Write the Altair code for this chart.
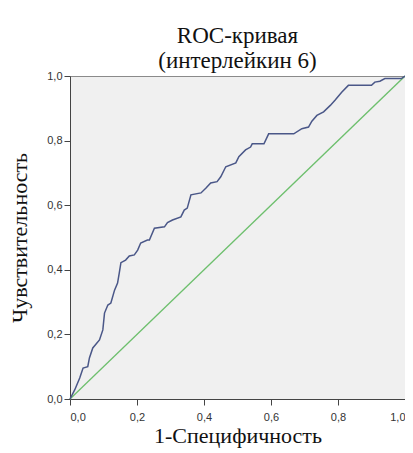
import altair as alt
import pandas as pd

fpr = [0.0, 0.014, 0.029, 0.039, 0.053, 0.058, 0.068, 0.088, 0.098, 0.103, 0.113, 0.122,
       0.133, 0.142, 0.147, 0.152, 0.166, 0.177, 0.192, 0.202, 0.211, 0.231, 0.237, 0.252,
       0.282, 0.291, 0.306, 0.331, 0.341, 0.350, 0.361, 0.391, 0.406, 0.420, 0.439, 0.450,
       0.465, 0.495, 0.504, 0.524, 0.539, 0.544, 0.579, 0.593, 0.668, 0.692, 0.712, 0.722,
       0.737, 0.757, 0.777, 0.791, 0.811, 0.831, 0.900, 0.910, 0.925, 0.940, 0.989, 1.0]
tpr = [0.0, 0.028, 0.065, 0.096, 0.100, 0.127, 0.158, 0.183, 0.214, 0.266, 0.291, 0.297,
       0.337, 0.359, 0.390, 0.422, 0.430, 0.443, 0.446, 0.461, 0.483, 0.492, 0.492, 0.529,
       0.533, 0.546, 0.554, 0.564, 0.585, 0.591, 0.632, 0.638, 0.653, 0.669, 0.673, 0.688,
       0.719, 0.731, 0.750, 0.771, 0.780, 0.790, 0.790, 0.821, 0.821, 0.837, 0.842, 0.860,
       0.878, 0.889, 0.909, 0.925, 0.950, 0.971, 0.971, 0.981, 0.984, 0.992, 0.992, 1.0]
diag_x = [0.0, 1.0]
diag_y = [0.0, 1.0]
ticks = [0.0, 0.2, 0.4, 0.6, 0.8, 1.0]

roc = pd.DataFrame({"x": fpr, "y": tpr, "o": list(range(len(fpr)))})
diag = pd.DataFrame({"x": diag_x, "y": diag_y, "o": [0, 1]})

label_expr = "replace(format(datum.value, '.1f'), '.', ',')"
SERIF = "Liberation Serif"

xscale = alt.Scale(domain=[0, 1], nice=False, zero=False)
yscale = alt.Scale(domain=[0, 1], nice=False, zero=False)

xaxis = alt.Axis(values=ticks, labelExpr=label_expr, title="1-Специфичность", grid=False,
                 tickSize=6, labelPadding=6, titlePadding=3)
yaxis = alt.Axis(values=ticks, labelExpr=label_expr, title="Чувствительность", grid=False,
                 tickSize=6, labelPadding=2, titlePadding=15)

diag_line = alt.Chart(diag).mark_line(color="#6dbf6d", strokeWidth=1.3).encode(
    x=alt.X("x:Q", scale=xscale, axis=xaxis),
    y=alt.Y("y:Q", scale=yscale, axis=yaxis),
    order="o:Q",
)
roc_line = alt.Chart(roc).mark_line(color="#4a5788", strokeWidth=1.5).encode(
    x=alt.X("x:Q", scale=xscale, axis=xaxis),
    y=alt.Y("y:Q", scale=yscale, axis=yaxis),
    order="o:Q",
)

chart = (
    alt.layer(diag_line, roc_line)
    .properties(
        width=335,
        height=323,
        autosize=alt.AutoSizeParams(type="none"),
        padding={"left": 62, "top": 68, "right": 0, "bottom": 52},
        title=alt.TitleParams(
            text=["ROC-кривая", "(интерлейкин 6)"],
            font=SERIF,
            fontSize=23,
            fontWeight="normal",
            color="#111",
            anchor="middle",
            lineHeight=25,
            offset=-3,
        ),
        background="white",
    )
    .configure_view(fill="#f0f0f0", stroke="#8a8a8a", strokeWidth=1)
    .configure_axis(
        domainColor="#444",
        tickColor="#444",
        labelFont="Liberation Sans",
        labelFontSize=11,
        labelColor="#333",
        titleFont=SERIF,
        titleFontSize=22,
        titleFontWeight="normal",
        titleColor="#111",
    )
)

chart.save("out.html", embed_options={"renderer": "svg", "actions": False})
